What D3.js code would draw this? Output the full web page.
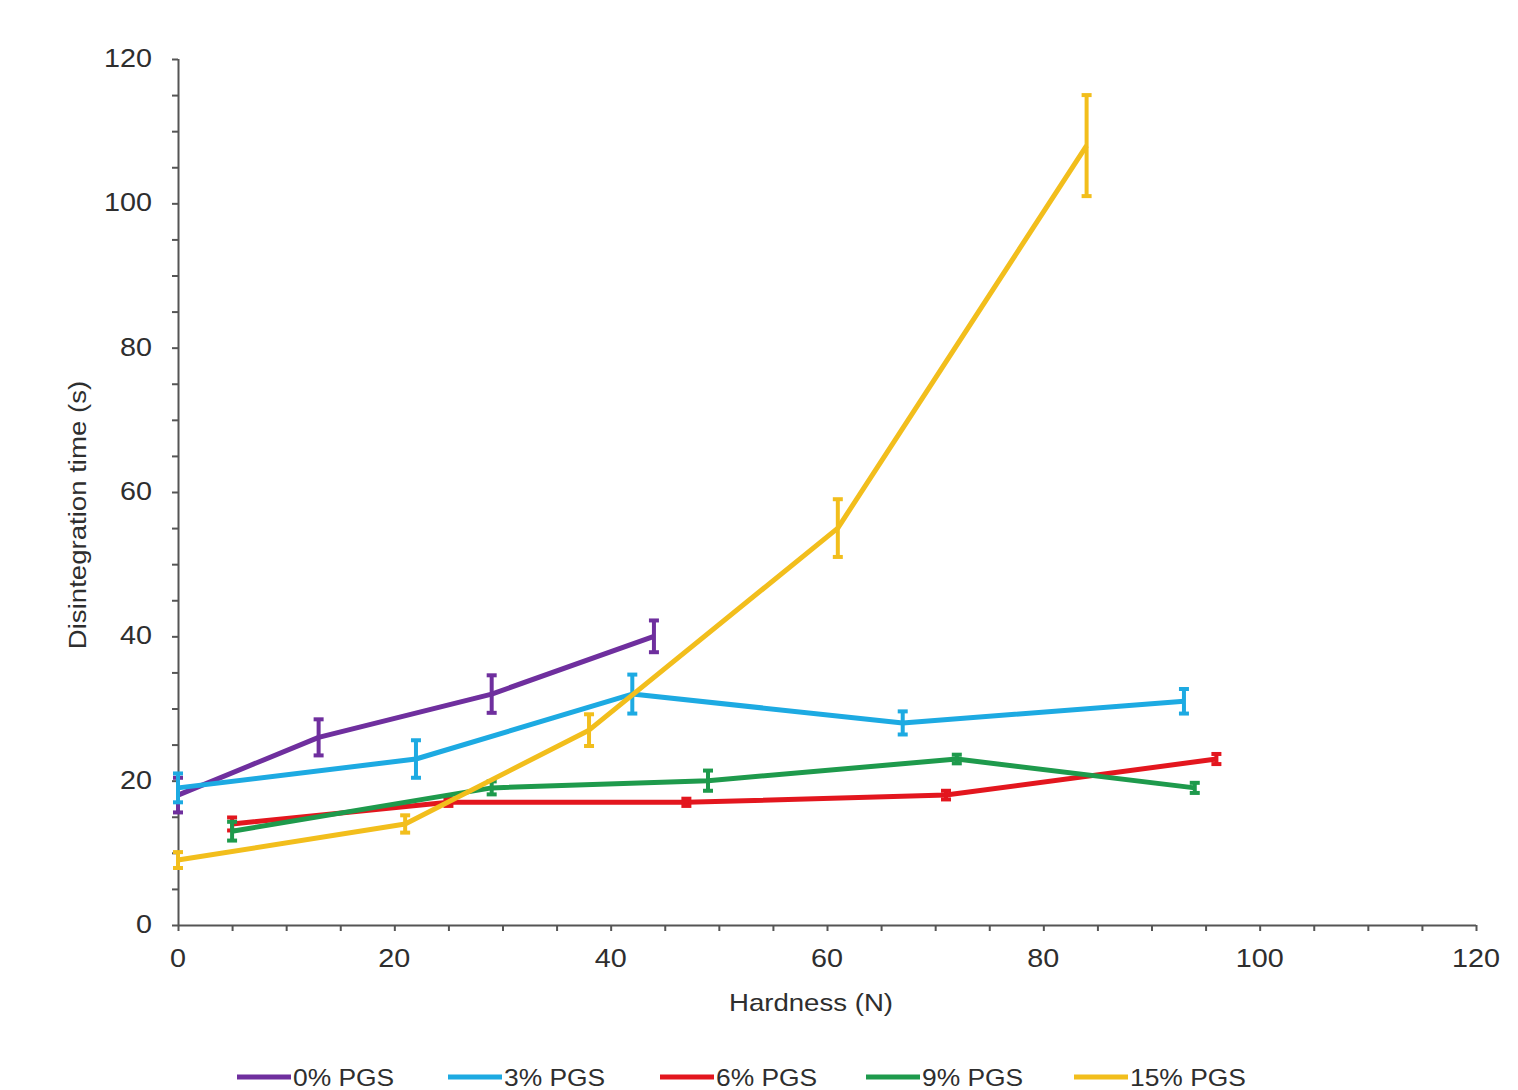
<!DOCTYPE html>
<html>
<head>
<meta charset="utf-8">
<script src="https://cdn.jsdelivr.net/npm/d3@7"></script>
<style>
  html, body { margin: 0; padding: 0; background: #fff; }
  svg { display: block; }
  text { font-family: "Liberation Sans", Arial, sans-serif; fill: #2e2e2e; }
</style>
</head>
<body>
<svg id="chart" width="1518" height="1090"></svg>
<script>
// ---- data ----
const seriesNames = ["0% PGS", "3% PGS", "6% PGS", "9% PGS", "15% PGS"];
const seriesColors = ["#6F2F9E", "#1DAAE2", "#E3161E", "#1E9A4C", "#F2BE1C"];

const hardness0 = [0, 13, 29, 44];
const time0     = [18, 26, 32, 40];
const err0      = [2.4, 2.5, 2.6, 2.2];

const hardness3 = [0, 22, 42, 67, 93];
const time3     = [19, 23, 32, 28, 31];
const err3      = [2.0, 2.6, 2.7, 1.6, 1.7];

const hardness6 = [5, 25, 47, 71, 96];
const time6     = [14, 17, 17, 18, 23];
const err6      = [0.9, 0.5, 0.5, 0.6, 0.7];

const hardness9 = [5, 29, 49, 72, 94];
const time9     = [13, 19, 20, 23, 19];
const err9      = [1.3, 0.9, 1.4, 0.6, 0.7];

const hardness15 = [0, 21, 38, 61, 84];
const time15     = [9, 14, 27, 55, 108];
const err15      = [1.1, 1.2, 2.2, 4.0, 7.0];

const xTicks = [0, 20, 40, 60, 80, 100, 120];
const yTicks = [0, 20, 40, 60, 80, 100, 120];
const xTitle = "Hardness (N)";
const yTitle = "Disintegration time (s)";

const allSeries = [
  [hardness0, time0, err0],
  [hardness3, time3, err3],
  [hardness6, time6, err6],
  [hardness9, time9, err9],
  [hardness15, time15, err15]
].map((s, i) => ({
  name: seriesNames[i],
  color: seriesColors[i],
  points: s[0].map((h, j) => ({ x: h, y: s[1][j], e: s[2][j] }))
}));

// ---- layout ----
const svg = d3.select("#chart");
const plotL = 178, plotR = 1476, plotT = 59, plotB = 925;
const STRETCH = 1.15;

const x = d3.scaleLinear().domain([0, 120]).range([plotL, plotR]);
const y = d3.scaleLinear().domain([0, 120]).range([plotB, plotT]);

// minor ticks every 5
const xAxis = d3.axisBottom(x).tickValues(d3.range(0, 121, 5)).tickSize(6).tickFormat("");
const yAxis = d3.axisLeft(y).tickValues(d3.range(0, 121, 5)).tickSize(6).tickFormat("");

const gx = svg.append("g").attr("transform", `translate(0,${plotB})`).call(xAxis);
const gy = svg.append("g").attr("transform", `translate(${plotL},0)`).call(yAxis);
[gx, gy].forEach(g => {
  g.select(".domain").attr("stroke", "#555").attr("stroke-width", 2);
  g.selectAll(".tick line").attr("stroke", "#555").attr("stroke-width", 2);
});
gx.select(".domain").attr("d", `M${plotL},0.5H${plotR}`);
gy.select(".domain").attr("d", `M0.5,${plotB}V${plotT}`);

// tick labels
svg.append("g").selectAll("text").data(xTicks).join("text")
  .attr("transform", d => `translate(${x(d)},967) scale(${STRETCH},1)`)
  .attr("text-anchor", "middle")
  .attr("font-size", 25)
  .text(d => d);

svg.append("g").selectAll("text").data(yTicks).join("text")
  .attr("transform", d => `translate(152,${y(d) + 8}) scale(${STRETCH},1)`)
  .attr("text-anchor", "end")
  .attr("font-size", 25)
  .text(d => d);

// axis titles
svg.append("text")
  .attr("transform", `translate(811,1011) scale(${STRETCH},1)`)
  .attr("text-anchor", "middle")
  .attr("font-size", 24)
  .text(xTitle);

svg.append("text")
  .attr("transform", `translate(86,515) rotate(-90) scale(${STRETCH},1)`)
  .attr("text-anchor", "middle")
  .attr("font-size", 24)
  .text(yTitle);

// series
const line = d3.line().x(d => x(d.x)).y(d => y(d.y));
const cap = 5;

allSeries.forEach(s => {
  const g = svg.append("g");
  g.append("path")
    .attr("d", line(s.points))
    .attr("fill", "none")
    .attr("stroke", s.color)
    .attr("stroke-width", 5)
    .attr("stroke-linejoin", "round");
  const eb = g.selectAll(".eb").data(s.points).join("g");
  eb.append("line")
    .attr("x1", d => x(d.x)).attr("x2", d => x(d.x))
    .attr("y1", d => y(d.y + d.e)).attr("y2", d => y(d.y - d.e))
    .attr("stroke", s.color).attr("stroke-width", 4);
  eb.append("line")
    .attr("x1", d => x(d.x) - cap).attr("x2", d => x(d.x) + cap)
    .attr("y1", d => y(d.y + d.e)).attr("y2", d => y(d.y + d.e))
    .attr("stroke", s.color).attr("stroke-width", 4);
  eb.append("line")
    .attr("x1", d => x(d.x) - cap).attr("x2", d => x(d.x) + cap)
    .attr("y1", d => y(d.y - d.e)).attr("y2", d => y(d.y - d.e))
    .attr("stroke", s.color).attr("stroke-width", 4);
});

// legend
const legendX = [237, 448, 660, 866, 1074];
const lg = svg.append("g");
allSeries.forEach((s, i) => {
  lg.append("line")
    .attr("x1", legendX[i]).attr("x2", legendX[i] + 54)
    .attr("y1", 1077).attr("y2", 1077)
    .attr("stroke", s.color).attr("stroke-width", 5);
  lg.append("text")
    .attr("transform", `translate(${legendX[i] + 56},1086) scale(1.1,1)`)
    .attr("font-size", 24)
    .text(s.name);
});
</script>
</body>
</html>
